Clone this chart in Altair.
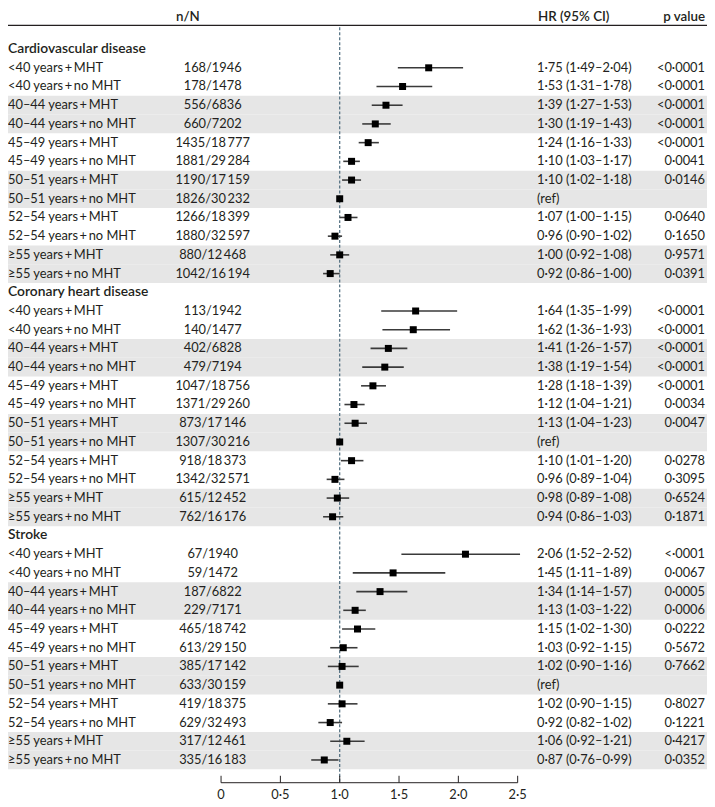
import altair as alt
import pandas as pd

# ---------------- data ----------------
sections = ["Cardiovascular disease", "Coronary heart disease", "Stroke"]
age_groups = ["<40 years", "40–44 years", "45–49 years", "50–51 years", "52–54 years", "≥55 years"]
therapies = ["MHT", "no MHT"]

cvd_events = [168, 178, 556, 660, 1435, 1881, 1190, 1826, 1266, 1880, 880, 1042]
cvd_total = [1946, 1478, 6836, 7202, 18777, 29284, 17159, 30232, 18399, 32597, 12468, 16194]
cvd_hr = [1.75, 1.53, 1.39, 1.30, 1.24, 1.10, 1.10, 1.00, 1.07, 0.96, 1.00, 0.92]
cvd_lo = [1.49, 1.31, 1.27, 1.19, 1.16, 1.03, 1.02, None, 1.00, 0.90, 0.92, 0.86]
cvd_hi = [2.04, 1.78, 1.53, 1.43, 1.33, 1.17, 1.18, None, 1.15, 1.02, 1.08, 1.00]
cvd_p = ["<0·0001", "<0·0001", "<0·0001", "<0·0001", "<0·0001", "0·0041",
         "0·0146", "", "0·0640", "0·1650", "0·9571", "0·0391"]

chd_events = [113, 140, 402, 479, 1047, 1371, 873, 1307, 918, 1342, 615, 762]
chd_total = [1942, 1477, 6828, 7194, 18756, 29260, 17146, 30216, 18373, 32571, 12452, 16176]
chd_hr = [1.64, 1.62, 1.41, 1.38, 1.28, 1.12, 1.13, 1.00, 1.10, 0.96, 0.98, 0.94]
chd_lo = [1.35, 1.36, 1.26, 1.19, 1.18, 1.04, 1.04, None, 1.01, 0.89, 0.89, 0.86]
chd_hi = [1.99, 1.93, 1.57, 1.54, 1.39, 1.21, 1.23, None, 1.20, 1.04, 1.08, 1.03]
chd_p = ["<0·0001", "<0·0001", "<0·0001", "<0·0001", "<0·0001", "0·0034",
         "0·0047", "", "0·0278", "0·3095", "0·6524", "0·1871"]

str_events = [67, 59, 187, 229, 465, 613, 385, 633, 419, 629, 317, 335]
str_total = [1940, 1472, 6822, 7171, 18742, 29150, 17142, 30159, 18375, 32493, 12461, 16183]
str_hr = [2.06, 1.45, 1.34, 1.13, 1.15, 1.03, 1.02, 1.00, 1.02, 0.92, 1.06, 0.87]
str_lo = [1.52, 1.11, 1.14, 1.03, 1.02, 0.92, 0.90, None, 0.90, 0.82, 0.92, 0.76]
str_hi = [2.52, 1.89, 1.57, 1.22, 1.30, 1.15, 1.16, None, 1.15, 1.02, 1.21, 0.99]
str_p = ["<·0001", "0·0067", "0·0005", "0·0006", "0·0222", "0·5672",
         "0·7662", "", "0·8027", "0·1221", "0·4217", "0·0352"]

tick_values = [0, 0.5, 1.0, 1.5, 2.0, 2.5]
tick_labels = ["0", "0·5", "1·0", "1·5", "2·0", "2·5"]

header_nN = "n/N"
header_hr = "HR (95% CI)"
header_p = "p value"

# ---------------- build table ----------------
THIN = "\u2009"


def fmt_total(t):
    s = str(t)
    if t >= 10000:
        s = s[:-3] + THIN + s[-3:]
    return s


def fmt_num(v):
    return f"{v:.2f}".replace(".", "·")


section_data = [
    (cvd_events, cvd_total, cvd_hr, cvd_lo, cvd_hi, cvd_p),
    (chd_events, chd_total, chd_hr, chd_lo, chd_hi, chd_p),
    (str_events, str_total, str_hr, str_lo, str_hi, str_p),
]

header_rows = []
rows = []
idx = 0
for s, name in enumerate(sections):
    header_rows.append({"row": idx, "label": name})
    idx += 1
    ev, tot, hr, lo, hi, pv = section_data[s]
    k = 0
    for g in age_groups:
        for t in therapies:
            ref = lo[k] is None
            rows.append({
                "row": idx,
                "label": f"{g}{THIN}+{THIN}{t}",
                "nN": f"{ev[k]}/{fmt_total(tot[k])}",
                "hr": hr[k],
                "lo": lo[k],
                "hi": hi[k],
                "hrtext": "(ref)" if ref else f"{fmt_num(hr[k])} ({fmt_num(lo[k])}–{fmt_num(hi[k])})",
                "p": pv[k],
                "shade": (k // 2) % 2 == 1,
                "r0": idx - 0.5,
                "r1": idx + 0.5,
            })
            idx += 1
            k += 1

df = pd.DataFrame(rows)
hdf = pd.DataFrame(header_rows)
ci_df = df[df["lo"].notna()].copy()
shade_df = df[df["shade"]].copy()
ticks_df = pd.DataFrame({"tick": tick_values, "label": tick_labels})
axis_df = pd.DataFrame({"start": [tick_values[0]], "end": [tick_values[-1]]})
ref_df = pd.DataFrame({"refv": [1.0]})
one = pd.DataFrame({"z": [0]})

# ---------------- layout ----------------
W, H = 707, 799
FONT = "Lato"
TXT = "#231f20"
xscale = alt.Scale(domain=[0, 2.5], range=[215.5, 515.5])
yscale = alt.Scale(domain=[0, 38], range=[37, 756])
Y = alt.Y("row:Q", scale=yscale, axis=None)

shade = alt.Chart(shade_df).mark_rect(color="#e6e6e6").encode(
    x=alt.value(0), x2=alt.value(W),
    y=alt.Y("r0:Q", scale=yscale, axis=None), y2="r1:Q",
)

head_rule = alt.Chart(one).mark_rule(color="#231f20", strokeWidth=1.2).encode(
    x=alt.value(0), x2=alt.value(W), y=alt.value(13)
)

ref_line = alt.Chart(ref_df).mark_rule(color="#4c6a7c", strokeWidth=1.2, strokeDash=[3, 2]).encode(
    x=alt.X("refv:Q", scale=xscale, axis=None), y=alt.value(15), y2=alt.value(779)
)

ci = alt.Chart(ci_df).mark_rule(color="#3a3a3a", strokeWidth=1.6).encode(
    x=alt.X("lo:Q", scale=xscale, axis=None), x2="hi:Q", y=Y
)

pts = alt.Chart(df).mark_square(color="#000000", opacity=1, size=50).encode(
    x=alt.X("hr:Q", scale=xscale, axis=None), y=Y
)

labels = alt.Chart(df).mark_text(align="left", baseline="middle", font=FONT, fontSize=13, color=TXT).encode(
    x=alt.value(0), y=Y, text="label:N"
)
sec_labels = alt.Chart(hdf).mark_text(align="left", baseline="middle", font=FONT, fontSize=14,
                                      fontWeight=600, color=TXT).encode(
    x=alt.value(0), y=Y, text="label:N"
)
nn = alt.Chart(df).mark_text(align="center", baseline="middle", font=FONT, fontSize=13, color=TXT).encode(
    x=alt.value(207), y=Y, text="nN:N"
)
hrt = alt.Chart(df).mark_text(align="left", baseline="middle", font=FONT, fontSize=13, color=TXT).encode(
    x=alt.value(535), y=Y, text="hrtext:N"
)
pt = alt.Chart(df).mark_text(align="right", baseline="middle", font=FONT, fontSize=13, color=TXT).encode(
    x=alt.value(705), y=Y, text="p:N"
)

h1 = alt.Chart(one).mark_text(align="center", baseline="alphabetic", font=FONT, fontSize=13.5,
                              fontWeight=600, color=TXT).encode(
    x=alt.value(182), y=alt.value(8.5), text=alt.value(header_nN))
h2 = alt.Chart(one).mark_text(align="left", baseline="alphabetic", font=FONT, fontSize=13.5,
                              fontWeight=600, color=TXT).encode(
    x=alt.value(536), y=alt.value(8.5), text=alt.value(header_hr))
h3 = alt.Chart(one).mark_text(align="right", baseline="alphabetic", font=FONT, fontSize=13.5,
                              fontWeight=600, color=TXT).encode(
    x=alt.value(705), y=alt.value(8.5), text=alt.value(header_p))

axis_line = alt.Chart(axis_df).mark_rule(color="#231f20", strokeWidth=1).encode(
    x=alt.X("start:Q", scale=xscale, axis=None), x2="end:Q", y=alt.value(779)
)
axis_ticks = alt.Chart(ticks_df).mark_rule(color="#231f20", strokeWidth=1).encode(
    x=alt.X("tick:Q", scale=xscale, axis=None), y=alt.value(772), y2=alt.value(779)
)
axis_labels = alt.Chart(ticks_df).mark_text(align="center", baseline="middle", font=FONT, fontSize=13,
                                            color=TXT).encode(
    x=alt.X("tick:Q", scale=xscale, axis=None), y=alt.value(791), text="label:N"
)

chart = alt.layer(
    shade, head_rule, ref_line, ci, pts, labels, sec_labels, nn, hrt, pt, h1, h2, h3,
    axis_line, axis_ticks, axis_labels,
).properties(
    width=W, height=H, padding=0, autosize=alt.AutoSizeParams(type="none")
).configure_view(stroke=None)

chart.save("out.html", embed_options={"renderer": "svg", "actions": False})
